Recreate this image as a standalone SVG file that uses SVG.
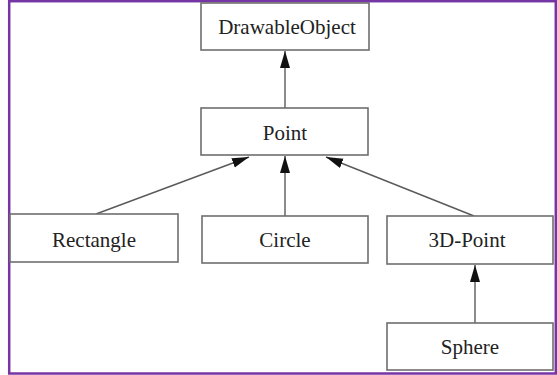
<svg xmlns="http://www.w3.org/2000/svg" width="557" height="375" viewBox="0 0 557 375">
  <style>
    .box { fill: #ffffff; stroke: #6e6e6e; stroke-width: 1.6; }
    .lbl { font-family: "Liberation Serif", "Times New Roman", serif; font-size: 21px; fill: #222222; text-anchor: middle; }
    .edge { stroke: #5a5a5a; stroke-width: 1.4; fill: none; marker-end: url(#arrow); }
  </style>
  <defs>
    <marker id="arrow" markerUnits="userSpaceOnUse" markerWidth="18" markerHeight="11" refX="17" refY="5" orient="auto">
      <path d="M0,0 L17,5 L0,10 Z" fill="#111111"/>
    </marker>
  </defs>
  <rect x="0" y="0" width="557" height="375" fill="#ffffff"/>
  <rect x="9.2" y="1.2" width="546.6" height="372.3" fill="none" stroke="#7535a5" stroke-width="2.5"/>

  <g id="connectors">
    <line class="edge" x1="285" y1="108" x2="285" y2="51"/>
    <line class="edge" x1="96" y1="214" x2="249" y2="157"/>
    <line class="edge" x1="285" y1="216" x2="285" y2="156"/>
    <line class="edge" x1="474" y1="216" x2="326" y2="157"/>
    <line class="edge" x1="475" y1="323" x2="475" y2="265"/>
  </g>

  <g id="DrawableObject">
    <rect class="box" x="201" y="3" width="168" height="47"/>
    <text class="lbl" x="287" y="34">DrawableObject</text>
  </g>
  <g id="Point">
    <rect class="box" x="201" y="108" width="167" height="47"/>
    <text class="lbl" x="285" y="140">Point</text>
  </g>
  <g id="Rectangle">
    <rect class="box" x="10" y="214" width="168" height="48"/>
    <text class="lbl" x="94" y="247">Rectangle</text>
  </g>
  <g id="Circle">
    <rect class="box" x="202" y="216" width="166" height="47"/>
    <text class="lbl" x="285" y="247">Circle</text>
  </g>
  <g id="ThreeDPoint">
    <rect class="box" x="387" y="216" width="166" height="48"/>
    <text class="lbl" x="467" y="247">3D-Point</text>
  </g>
  <g id="Sphere">
    <rect class="box" x="387" y="323" width="166" height="47"/>
    <text class="lbl" x="470" y="354">Sphere</text>
  </g>
</svg>
